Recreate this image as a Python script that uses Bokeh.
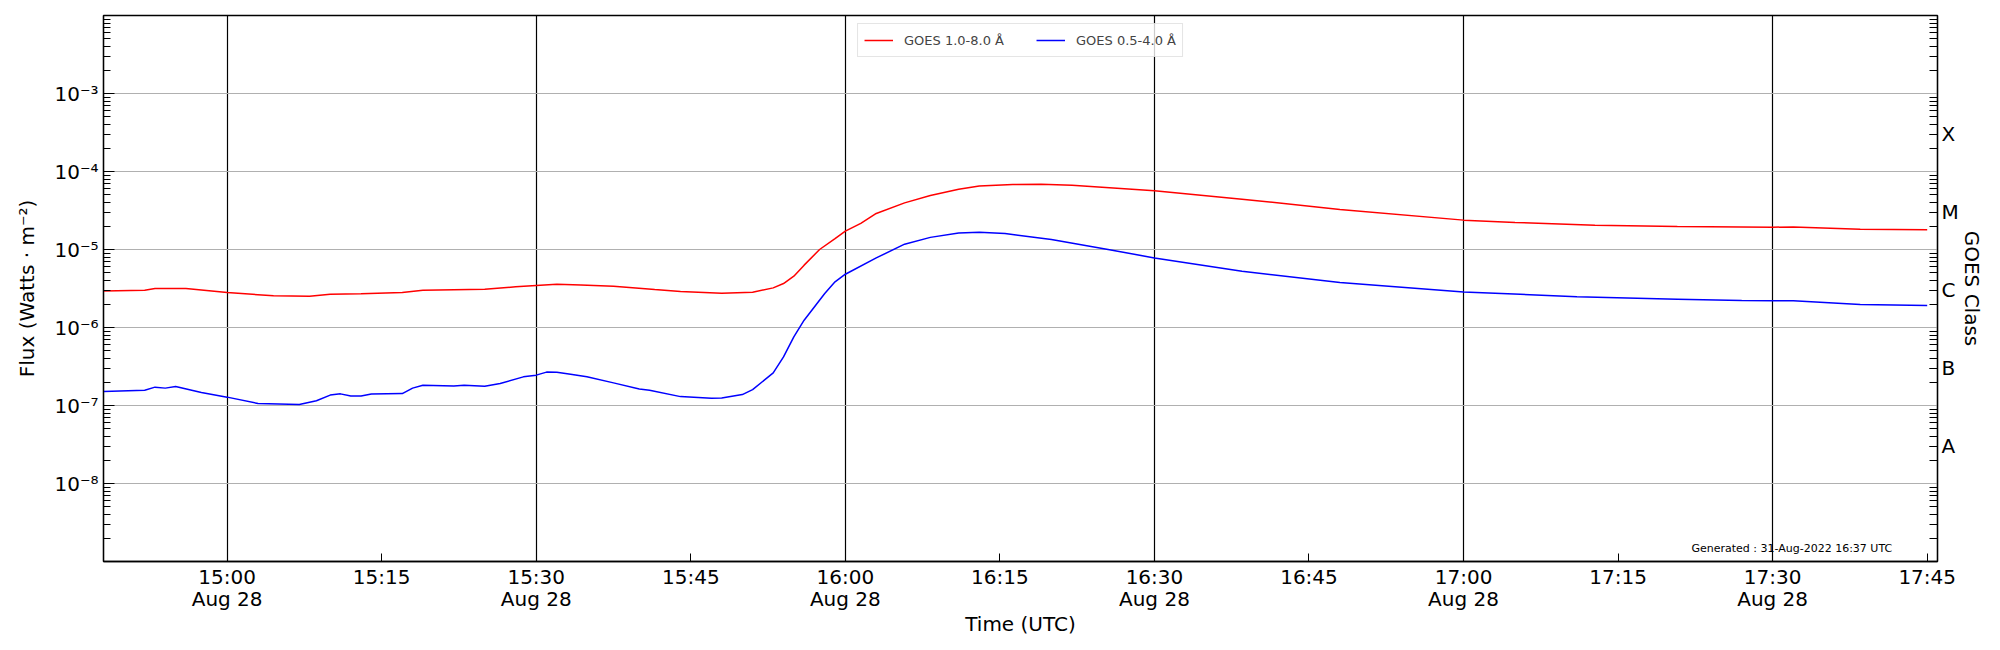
import pandas as pd
from bokeh.plotting import figure
from bokeh.models import (Range1d, LogAxis, LogScale, FixedTicker,
                          CustomJSTickFormatter, Label)
from bokeh.embed import file_html
from bokeh.resources import INLINE

DATE = "2022-08-28"

red_times = ["14:48", "14:52", "14:53", "14:56", "15:00", "15:04:30", "15:08", "15:10",
             "15:13", "15:17", "15:19", "15:25", "15:28", "15:30", "15:32", "15:34:20",
             "15:37:30", "15:41:30", "15:44", "15:48", "15:51", "15:53", "15:54", "15:55",
             "15:56", "15:57:30", "15:59", "16:00", "16:01:30", "16:03", "16:05:45", "16:08:15",
             "16:11", "16:13", "16:16:15", "16:19", "16:22", "16:30", "16:38:30", "16:48",
             "17:00", "17:05", "17:12:45", "17:20:45", "17:30", "17:32", "17:38:30", "17:45"]
red_flux = [2.94e-6, 3.0e-6, 3.16e-6, 3.16e-6, 2.81e-6, 2.55e-6, 2.52e-6, 2.67e-6,
            2.7e-6, 2.81e-6, 3.0e-6, 3.1e-6, 3.32e-6, 3.45e-6, 3.59e-6, 3.5e-6,
            3.39e-6, 3.07e-6, 2.9e-6, 2.75e-6, 2.84e-6, 3.22e-6, 3.66e-6, 4.55e-6,
            6.3e-6, 1.0e-5, 1.38e-5, 1.72e-5, 2.16e-5, 2.9e-5, 3.96e-5, 4.93e-5,
            5.93e-5, 6.54e-5, 6.8e-5, 6.85e-5, 6.67e-5, 5.65e-5, 4.42e-5, 3.26e-5,
            2.38e-5, 2.22e-5, 2.05e-5, 1.97e-5, 1.93e-5, 1.95e-5, 1.82e-5, 1.79e-5]

blue_times = ["14:48", "14:52", "14:53", "14:54", "14:55", "14:57:30", "15:00", "15:03",
              "15:07", "15:08:40", "15:10", "15:11", "15:12", "15:13", "15:14", "15:17",
              "15:18", "15:19", "15:22", "15:23", "15:25", "15:26:30", "15:28:45", "15:30",
              "15:31", "15:32", "15:33:20", "15:34:55", "15:37:30", "15:40", "15:41", "15:44",
              "15:47", "15:48", "15:50", "15:51", "15:53", "15:54", "15:55", "15:56",
              "15:58", "15:59", "16:00", "16:03", "16:05:45", "16:08:15", "16:11", "16:13",
              "16:15:30", "16:20", "16:25:30", "16:30", "16:38:30", "16:48", "17:00", "17:05:30",
              "17:11", "17:20:45", "17:27", "17:30", "17:32", "17:38:30", "17:45"]
blue_flux = [1.51e-7, 1.57e-7, 1.72e-7, 1.67e-7, 1.75e-7, 1.47e-7, 1.28e-7, 1.06e-7,
             1.03e-7, 1.15e-7, 1.36e-7, 1.41e-7, 1.32e-7, 1.32e-7, 1.40e-7, 1.42e-7,
             1.67e-7, 1.82e-7, 1.78e-7, 1.82e-7, 1.76e-7, 1.91e-7, 2.33e-7, 2.45e-7,
             2.68e-7, 2.66e-7, 2.52e-7, 2.33e-7, 1.95e-7, 1.63e-7, 1.57e-7, 1.30e-7,
             1.24e-7, 1.25e-7, 1.38e-7, 1.60e-7, 2.62e-7, 4.2e-7, 7.58e-7, 1.24e-6,
             2.73e-6, 3.85e-6, 4.82e-6, 7.8e-6, 1.17e-5, 1.43e-5, 1.63e-5, 1.67e-5,
             1.60e-5, 1.34e-5, 1.0e-5, 7.8e-6, 5.27e-6, 3.78e-6, 2.86e-6, 2.67e-6,
             2.47e-6, 2.31e-6, 2.22e-6, 2.21e-6, 2.2e-6, 1.97e-6, 1.92e-6]

series_labels = ["GOES 1.0-8.0 Å", "GOES 0.5-4.0 Å"]
x_start, x_end = "14:48", "17:46"
x_tick_times = ["15:00", "15:15", "15:30", "15:45", "16:00", "16:15", "16:30", "16:45",
                "17:00", "17:15", "17:30", "17:45"]
x_grid_times = ["15:00", "15:30", "16:00", "16:30", "17:00", "17:30"]
y_min, y_max = 1e-9, 1e-2
y_decades = [1e-8, 1e-7, 1e-6, 1e-5, 1e-4, 1e-3]
class_ticks = [3e-8, 3e-7, 3e-6, 3e-5, 3e-4]
class_labels = ["A", "B", "C", "M", "X"]
generated_text = "Generated : 31-Aug-2022 16:37 UTC"
generated_pos = ("17:41:36", 1.48e-9)


def ts(t):
    return pd.Timestamp(f"{DATE} {t}").to_pydatetime()


def ms(t):
    return (pd.Timestamp(f"{DATE} {t}") - pd.Timestamp("1970-01-01")) / pd.Timedelta(milliseconds=1)


FONT = "DejaVu Sans"
minor = [k * 10.0 ** n for n in range(-9, -2) for k in range(2, 10)]

W, H = 2000, 648
p = figure(width=W, height=H, output_backend="svg", toolbar_location=None,
           x_axis_type="datetime", y_axis_type="log",
           x_range=Range1d(ts(x_start), ts(x_end)), y_range=Range1d(y_min, y_max),
           min_border_left=103, min_border_right=W - 1937, min_border_top=15,
           min_border_bottom=H - 561)
p.background_fill_color = "white"
p.border_fill_color = "white"
p.outline_line_color = "black"
p.outline_line_width = 1.3

p.line([ts(t) for t in red_times], red_flux, line_color="red", line_width=1.5,
       legend_label=series_labels[0])
p.line([ts(t) for t in blue_times], blue_flux, line_color="blue", line_width=1.5,
       legend_label=series_labels[1])

# x axis
xa = p.xaxis[0]
xa.ticker = FixedTicker(ticks=[ms(t) for t in x_tick_times], minor_ticks=[])
xa.formatter = CustomJSTickFormatter(code="""
const d = new Date(tick);
const hh = String(d.getUTCHours()).padStart(2, '0');
const mm = String(d.getUTCMinutes()).padStart(2, '0');
const months = ["Jan","Feb","Mar","Apr","May","Jun","Jul","Aug","Sep","Oct","Nov","Dec"];
if (d.getUTCMinutes() % 30 === 0) {
  return hh + ":" + mm + "\\n" + months[d.getUTCMonth()] + " " + d.getUTCDate();
}
return hh + ":" + mm;
""")
xa.axis_label = "Time (UTC)"

# left y axis
ya = p.yaxis[0]
ya.ticker = FixedTicker(ticks=y_decades, minor_ticks=minor)
ya.formatter = CustomJSTickFormatter(code="""
const e = Math.round(Math.log10(tick));
const sup = {'-': '\u207b', '0': '\u2070', '1': '\u00b9', '2': '\u00b2', '3': '\u00b3',
             '4': '\u2074', '5': '\u2075', '6': '\u2076', '7': '\u2077', '8': '\u2078', '9': '\u2079'};
return '10' + String(e).split('').map(c => sup[c]).join('');
""")
ya.axis_label = "Flux (Watts · m⁻²)"

# right class axis
p.extra_y_ranges = {"cls": Range1d(y_min, y_max)}
p.extra_y_scales = {"cls": LogScale()}
ra = LogAxis(y_range_name="cls",
             ticker=FixedTicker(ticks=class_ticks, minor_ticks=minor),
             formatter=CustomJSTickFormatter(args=dict(labels=class_labels), code="""
const e = Math.round(Math.log10(tick / 3));
return labels[e + 8];
"""),
             axis_label="GOES Class")
p.add_layout(ra, "right")

for ax in [xa, ya, ra]:
    ax.axis_line_color = "black"
    ax.axis_line_width = 1.3
    ax.major_tick_line_color = "black"
    ax.minor_tick_line_color = "black"
    ax.major_tick_out = 0
    ax.minor_tick_out = 0
    ax.major_tick_in = 11
    ax.minor_tick_in = 7
    ax.major_label_text_font = FONT
    ax.major_label_text_font_size = "20px"
    ax.major_label_text_color = "black"
    ax.axis_label_text_font = FONT
    ax.axis_label_text_font_size = "20px"
    ax.axis_label_text_font_style = "normal"
    ax.axis_label_text_color = "black"

xa.major_tick_in = 8
xa.major_label_standoff = 3
xa.major_label_text_line_height = 0.92
xa.axis_label_standoff = -2
ya.major_label_standoff = 5
ya.axis_label_standoff = 12
ra.major_label_standoff = 4
ra.axis_label_standoff = -2
ra.major_tick_in = 8
ra.minor_tick_in = 8

# grids
p.ygrid.ticker = FixedTicker(ticks=y_decades)
p.ygrid.grid_line_color = "#b0b0b0"
p.ygrid.grid_line_width = 1
p.xgrid.ticker = FixedTicker(ticks=[ms(t) for t in x_grid_times])
p.xgrid.grid_line_color = "black"
p.xgrid.grid_line_width = 1.2

# legend
lg = p.legend[0]
lg.location = "top_center"
lg.orientation = "horizontal"
lg.margin = 8
lg.padding = 6
lg.spacing = 32
lg.glyph_width = 29
lg.label_standoff = 11
lg.label_text_font = FONT
lg.label_text_font_size = "13px"
lg.border_line_color = "#cccccc"
lg.border_line_width = 1
lg.background_fill_alpha = 0.8

p.add_layout(Label(x=ms(generated_pos[0]), y=generated_pos[1], text=generated_text,
                   text_font=FONT, text_font_size="11px", text_color="black",
                   text_align="right", text_baseline="alphabetic"))

open("out.html", "w").write(file_html(p, INLINE))
